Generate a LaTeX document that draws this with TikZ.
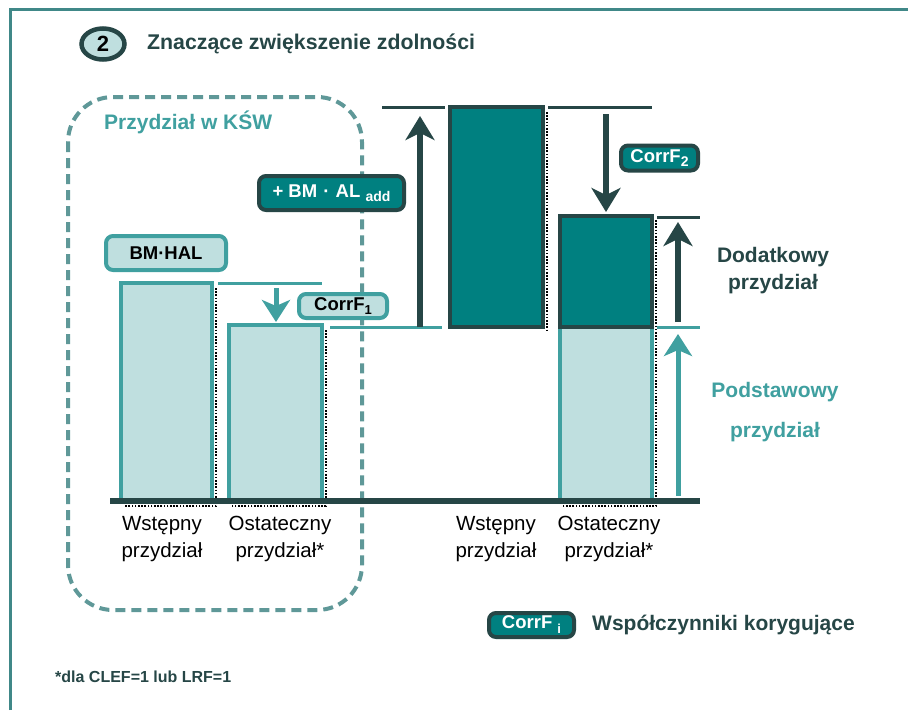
\documentclass[tikz,border=0pt]{standalone}
\usepackage{fontspec}
\setmainfont{Liberation Sans}
\usetikzlibrary{arrows.meta,shapes.geometric}

\definecolor{dk}{RGB}{38,70,70}
\definecolor{tealc}{RGB}{0,128,128}
\definecolor{lightc}{RGB}{191,223,223}
\definecolor{midc}{RGB}{64,160,160}
\definecolor{dashc}{RGB}{95,152,152}
\definecolor{framec}{RGB}{64,136,136}

\tikzset{
  lbox/.style={rounded corners=7pt, fill=lightc, draw=midc, line width=4pt,
    inner sep=0pt, text=black, font=\fontsize{18.5}{20}\selectfont\bfseries},
  dbox/.style={rounded corners=7pt, fill=tealc, draw=dk, line width=4pt,
    inner sep=0pt, text=white, font=\fontsize{18.5}{20}\selectfont\bfseries},
  lightbar/.style={draw=midc, fill=lightc, line width=4pt},
  darkbar/.style={draw=dk, fill=tealc, line width=4pt},
  darkline/.style={draw=dk, line width=3pt},
  midline/.style={draw=midc, line width=3pt},
  darkarrow/.style={draw=dk, line width=6pt,
    -{Stealth[length=24pt,width=29pt,inset=7pt]}},
  midarrow/.style={draw=midc, line width=5pt,
    -{Stealth[length=22pt,width=28pt,inset=6pt]}},
  shadowdots/.style={draw=black, line width=1.6pt, dash pattern=on 1.6pt off 1.6pt},
  barlabel/.style={align=center, inner sep=0pt, text=black,
    font=\fontsize{20.5}{27}\selectfont},
}

\begin{document}
\begin{tikzpicture}[x=1pt,y=-1pt]
\useasboundingbox (0,0) rectangle (908,710);
\fill[white] (0,0) rectangle (908,710);

% outer frame
\draw[framec, line width=3pt] (10,710) -- (10,9) -- (908,9);

% heading
\node[ellipse, draw=dk, line width=4.5pt, fill=lightc, minimum width=43pt,
  minimum height=31pt, inner sep=0pt, font=\fontsize{22}{22}\selectfont\bfseries]
  (badge) at (103,44) {2};
\node[anchor=west, inner sep=0pt, text=dk, font=\fontsize{21.3}{24}\selectfont\bfseries]
  (title) at (147,44) {Znaczące zwiększenie zdolności};

% dashed group frame
\draw[dashc, line width=4pt, dash pattern=on 10pt off 6pt, rounded corners=45pt]
  (68,97) rectangle (362,610);
\node[anchor=west, inner sep=0pt, text=midc, font=\fontsize{21}{24}\selectfont\bfseries]
  (kswlabel) at (104,122) {Przydział w KŚW};

% shadows of the bars
\draw[shadowdots] (216,288) -- (216,506) -- (124,506);
\draw[shadowdots] (326,330) -- (326,506) -- (232,506);
\draw[shadowdots] (547,112) -- (547,330);
\draw[shadowdots] (656,220) -- (656,506) -- (563,506);

% bars
\draw[lightbar] (121,283) rectangle (212,500);
\draw[lightbar] (229,325) rectangle (322,500);
\draw[darkbar] (450,107) rectangle (543,327);
\draw[lightbar] (560,327) rectangle (652,500);
\draw[darkbar] (560,216) rectangle (652,327);

% level marks
\coordinate (m1a) at (218,283); \coordinate (m1b) at (322,283);
\coordinate (m2a) at (330,327); \coordinate (m2b) at (442,327);
\coordinate (m3a) at (382,107); \coordinate (m3b) at (445,107);
\coordinate (m4a) at (548,107); \coordinate (m4b) at (652,107);
\coordinate (m5a) at (657,217); \coordinate (m5b) at (700,217);
\coordinate (m6a) at (657,327); \coordinate (m6b) at (700,327);
\draw[midline] (m1a) -- (m1b);
\draw[midline] (m2a) -- (m2b);
\draw[darkline] (m3a) -- (m3b);
\draw[darkline] (m4a) -- (m4b);
\draw[darkline] (m5a) -- (m5b);
\draw[midline] (m6a) -- (m6b);

% arrows
\coordinate (a1s) at (276,288); \coordinate (a1e) at (276,322);
\coordinate (a2s) at (420,327); \coordinate (a2e) at (420,116);
\coordinate (a3s) at (606,114); \coordinate (a3e) at (606,212);
\coordinate (a4s) at (678,322); \coordinate (a4e) at (678,222);
\coordinate (a5s) at (678,496); \coordinate (a5e) at (678,334);
\draw[midarrow] (a1s) -- (a1e);
\draw[darkarrow] (a2s) -- (a2e);
\draw[darkarrow] (a3s) -- (a3e);
\draw[darkarrow] (a4s) -- (a4e);
\draw[midarrow] (a5s) -- (a5e);

% axis
\coordinate (axl) at (110,501); \coordinate (axr) at (700,501);
\draw[dk, line width=6pt] (axl) -- (axr);

% labelled boxes
\node[lbox, minimum width=120pt, minimum height=34pt] (bmhal) at (166,253) {BM·HAL};
\node[lbox, minimum width=88pt, minimum height=24pt] (corrf1) at (343,306)
  {CorrF\raisebox{-4pt}{\fontsize{13}{13}\selectfont 1}};
\node[dbox, minimum width=145pt, minimum height=34pt] (bmal) at (331.5,193)
  {+ BM\,\,·\,\,AL \raisebox{-4pt}{\fontsize{14}{14}\selectfont add}};
\node[dbox, minimum width=77pt, minimum height=25pt] (corrf2) at (659.5,158)
  {CorrF\raisebox{-4pt}{\fontsize{14}{14}\selectfont 2}};

% right side descriptions
\node[align=center, inner sep=0pt, text=dk, font=\fontsize{21}{27}\selectfont\bfseries]
  (dodat) at (773,270.5) {Dodatkowy\\przydział};
\node[align=center, inner sep=0pt, text=midc, font=\fontsize{21}{40}\selectfont\bfseries]
  (podst) at (775,412) {Podstawowy\\przydział};

% bar labels
\node[barlabel] (l1) at (162,539) {Wstępny\\przydział};
\node[barlabel] (l2) at (280,539) {Ostateczny\\przydział*};
\node[barlabel] (l3) at (496,539) {Wstępny\\przydział};
\node[barlabel] (l4) at (609,539) {Ostateczny\\przydział*};

% legend
\node[dbox, minimum width=85pt, minimum height=24pt] (legbox) at (531.5,625)
  {CorrF \raisebox{-5pt}{\fontsize{13}{13}\selectfont i}};
\node[anchor=west, inner sep=0pt, text=dk, font=\fontsize{21}{24}\selectfont\bfseries]
  (legtext) at (592,625) {Współczynniki korygujące};

% footnote
\node[anchor=west, inner sep=0pt, text=dk, font=\fontsize{16}{18}\selectfont\bfseries]
  (foot) at (55,677) {*dla CLEF=1 lub LRF=1};
\end{tikzpicture}
\end{document}
